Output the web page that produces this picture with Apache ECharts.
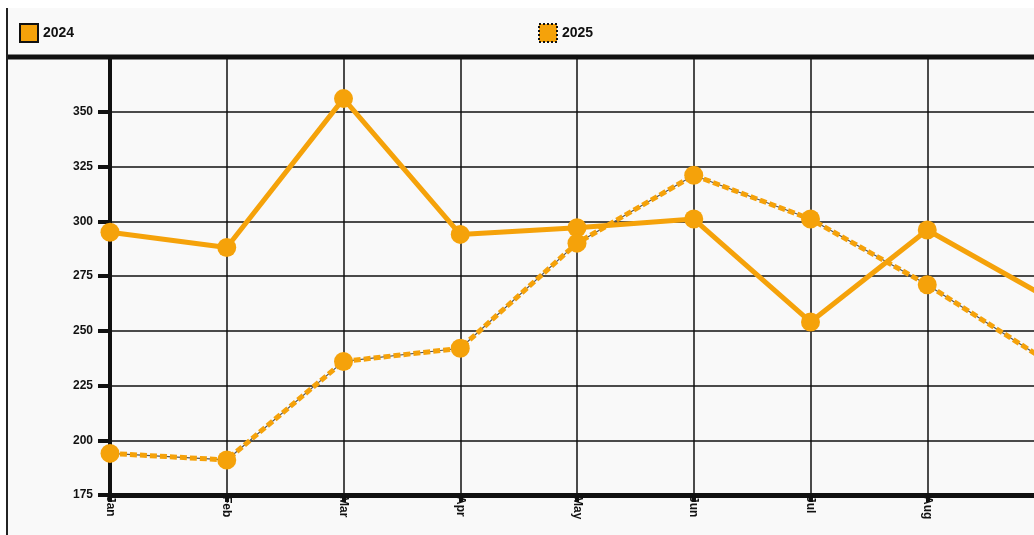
<!DOCTYPE html>
<html>
<head>
<meta charset="utf-8">
<script src="https://cdn.jsdelivr.net/npm/echarts@6/dist/echarts.min.js"></script>
<style>
  html, body { margin: 0; padding: 0; background: #ffffff; overflow: hidden; }
  #frame {
    position: absolute; left: 6px; top: 8px;
    width: 1100px; height: 540px;
    border-left: 2px solid #222;
    background: #f9f9f9;
  }
  #chart { width: 1100px; height: 540px; }
</style>
</head>
<body>
<div id="frame"><div id="chart"></div></div>
<script>
// Monthly values, 2024 vs 2025
const months = ['Jan', 'Feb', 'Mar', 'Apr', 'May', 'Jun', 'Jul', 'Aug', 'Sep'];
const values2024 = [295, 288, 356, 294, 297, 301, 254, 296, 266];
const values2025 = [194, 191, 236, 242, 290, 321, 301, 271, 237];
const yTicks = { min: 175, max: 375, step: 25 };

const ORANGE = '#f5a20a';
const INK = '#111111';
const FONT = 'Liberation Sans, Arial, sans-serif';

const chart = echarts.init(document.getElementById('chart'), null, { renderer: 'canvas' });

const legendText = { color: INK, fontSize: 14, fontWeight: 'bold', fontFamily: FONT };

chart.setOption({
  backgroundColor: '#f9f9f9',
  animation: false,
  legend: [
    {
      left: 6, top: 10, icon: 'rect', itemWidth: 18, itemHeight: 18, itemGap: 5,
      textStyle: legendText,
      data: [{ name: '2024', itemStyle: { color: ORANGE, borderColor: INK, borderWidth: 2, borderType: 'solid' } }]
    },
    {
      left: 525, top: 10, icon: 'rect', itemWidth: 18, itemHeight: 18, itemGap: 5,
      textStyle: legendText,
      data: [{ name: '2025', itemStyle: { color: ORANGE, borderColor: INK, borderWidth: 2, borderType: 'dotted' } }]
    }
  ],
  grid: { left: 102, top: 49, right: 64, height: 438, containLabel: false },
  graphic: [
    {
      type: 'line', z: 10,
      shape: { x1: 0, y1: 49, x2: 1100, y2: 49 },
      style: { stroke: INK, lineWidth: 5 }
    }
  ],
  xAxis: {
    type: 'category',
    data: months,
    boundaryGap: false,
    axisLine: { show: true, lineStyle: { color: INK, width: 5 } },
    axisTick: { show: true, alignWithLabel: true, length: 7, lineStyle: { color: INK, width: 4 } },
    axisLabel: {
      rotate: -90, margin: 1, color: INK, fontSize: 12, fontWeight: 'bold', fontFamily: FONT
    },
    splitLine: { show: true, lineStyle: { color: INK, width: 1.5 } }
  },
  yAxis: {
    type: 'value',
    min: yTicks.min, max: yTicks.max, interval: yTicks.step,
    axisLine: { show: true, lineStyle: { color: INK, width: 4 } },
    axisTick: { show: true, length: 12, lineStyle: { color: INK, width: 4 } },
    axisLabel: {
      color: INK, fontSize: 12, fontWeight: 'bold', margin: 17, showMaxLabel: false, fontFamily: FONT
    },
    splitLine: { show: true, lineStyle: { color: INK, width: 1.5 } }
  },
  series: [
    {
      name: '2024', type: 'line', data: values2024,
      symbol: 'circle', symbolSize: 19,
      itemStyle: { color: ORANGE },
      lineStyle: { color: ORANGE, width: 5 },
      z: 3
    },
    {
      // thin core line running under the dashed 2025 stroke
      name: '2025', type: 'line', data: values2025,
      symbol: 'none', silent: true,
      lineStyle: { color: '#555555', width: 1.2 },
      z: 2
    },
    {
      name: '2025', type: 'line', data: values2025,
      symbol: 'circle', symbolSize: 19,
      itemStyle: { color: ORANGE },
      lineStyle: { color: ORANGE, width: 5, type: [7, 3] },
      z: 3
    }
  ]
});
</script>
</body>
</html>
